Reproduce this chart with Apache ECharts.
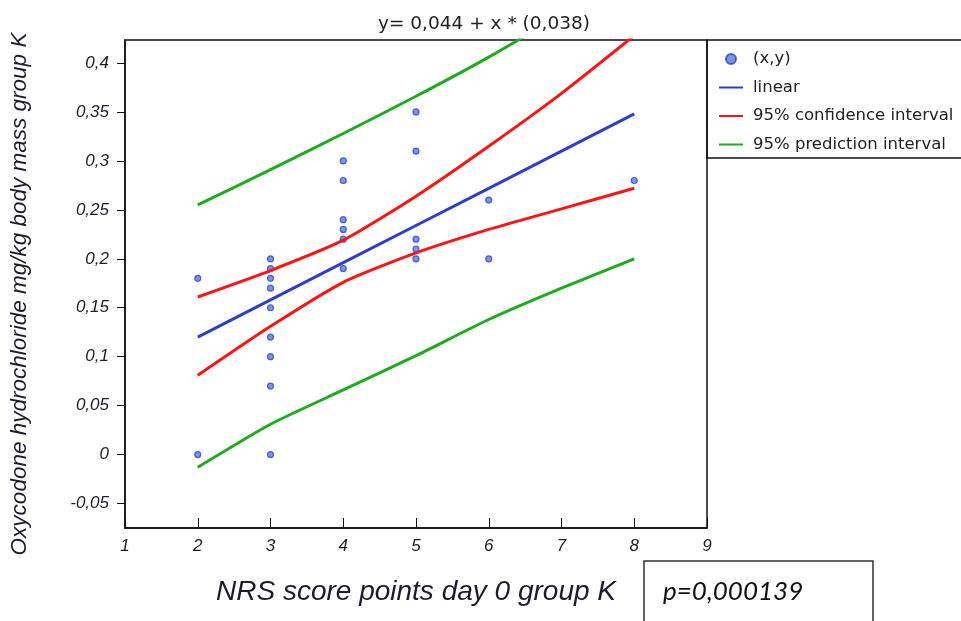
<!DOCTYPE html>
<html>
<head>
<meta charset="utf-8">
<script src="https://cdn.jsdelivr.net/npm/echarts@6/dist/echarts.min.js"></script>
<style>
  html, body { margin: 0; padding: 0; background: #fff; }
  #chart { width: 961px; height: 621px; }
</style>
</head>
<body>
<div id="chart"></div>
<script>
// observed points (x = NRS score, y = mg/kg)
const pointX = [2, 2, 3, 3, 3, 3, 3, 3, 3, 3, 3, 4, 4, 4, 4, 4, 4, 5, 5, 5, 5, 5, 6, 6, 8]
const pointY = [0.18, 0, 0.2, 0.19, 0.18, 0.17, 0.15, 0.12, 0.1, 0.07, 0, 0.3, 0.28, 0.24, 0.23, 0.22, 0.19, 0.35, 0.31, 0.22, 0.21, 0.2, 0.26, 0.2, 0.28]

// fitted line and bands, read at each integer x
const curveX = [2, 3, 4, 5, 6, 7, 8]
const linear = [0.12, 0.158, 0.196, 0.234, 0.272, 0.310, 0.348]
const ciUpper = [0.161, 0.188, 0.219, 0.264, 0.315, 0.369, 0.428]
const ciLower = [0.081, 0.131, 0.176, 0.206, 0.230, 0.251, 0.272]
const piUpper = [0.255, 0.291, 0.328, 0.366, 0.406, 0.450, 0.496]
const piLower = [-0.013, 0.031, 0.066, 0.101, 0.138, 0.170, 0.200]

const yTicks = [-0.05, 0, 0.05, 0.1, 0.15, 0.2, 0.25, 0.3, 0.35, 0.4]

const pairs = (xs, ys) => xs.map((x, i) => [x, ys[i]])
const comma = (v) => String(+(+v).toFixed(2)).replace('.', ',')

const chart = echarts.init(document.getElementById('chart'))
const labelFont = { fontFamily: 'Liberation Sans', fontStyle: 'italic', fontSize: 17, color: '#1c1c2e' }
const lineIcon = 'path://M0,0 H24 V2 H0 Z'

const band = (name, data, color, smooth) => ({
  name: name,
  type: 'line',
  data: pairs(curveX, data),
  smooth: smooth,
  symbol: 'none',
  lineStyle: { color: color, width: 3 },
  itemStyle: { color: color },
  z: 3
})

chart.setOption({
  animation: false,
  title: {
    text: 'y= 0,044 + x * (0,038)',
    left: 373,
    top: 10,
    textStyle: { fontFamily: 'DejaVu Sans', fontWeight: 'normal', fontSize: 18.5, color: '#222' }
  },
  grid: {
    left: 125,
    top: 40,
    right: 254,
    bottom: 93,
    show: true,
    borderColor: '#111',
    borderWidth: 1.5
  },
  legend: {
    orient: 'vertical',
    left: 714,
    top: 45,
    itemWidth: 24,
    itemHeight: 10,
    itemGap: 10.5,
    textStyle: { fontFamily: 'DejaVu Sans', fontSize: 16.5, color: '#222', lineHeight: 18, padding: [0, 0, 0, 5] },
    data: [
      { name: '(x,y)', icon: 'circle' },
      { name: 'linear', icon: lineIcon },
      { name: '95% confidence interval', icon: lineIcon },
      { name: '95% prediction interval', icon: lineIcon }
    ]
  },
  xAxis: {
    type: 'value',
    min: 1,
    max: 9,
    interval: 1,
    name: 'NRS score points day 0 group K',
    nameLocation: 'middle',
    nameGap: 50,
    nameTextStyle: { fontFamily: 'Liberation Sans', fontStyle: 'italic', fontSize: 28, color: '#1c1c2e' },
    axisLine: { onZero: false, lineStyle: { color: '#111', width: 1.5 } },
    axisTick: { inside: true, length: 10, lineStyle: { color: '#111' } },
    axisLabel: Object.assign({ margin: 10 }, labelFont),
    splitLine: { show: false }
  },
  yAxis: {
    type: 'value',
    min: -0.075,
    max: 0.4235,
    axisLine: { show: true, onZero: false, lineStyle: { color: '#111', width: 1.5 } },
    axisTick: { show: true, length: 8, customValues: yTicks, lineStyle: { color: '#111' } },
    axisLabel: Object.assign({ margin: 16, customValues: yTicks, formatter: comma }, labelFont),
    splitLine: { show: false }
  },
  series: [
    {
      name: '(x,y)',
      type: 'scatter',
      data: pairs(pointX, pointY),
      symbolSize: 6,
      itemStyle: { color: '#6077dc', borderColor: '#2b47c6', borderWidth: 1.2 },
      z: 2
    },
    band('linear', linear, '#2c3fcc', false),
    band('95% confidence interval', ciUpper, '#ff1414', 0.2),
    band('95% confidence interval', ciLower, '#ff1414', 0.2),
    band('95% prediction interval', piUpper, '#1faa1f', 0.2),
    band('95% prediction interval', piLower, '#1faa1f', 0.2)
  ],
  graphic: [
    {
      // y axis title, placed by hand to sit a little below the plot centre like the source
      type: 'text',
      x: 20,
      y: 294,
      rotation: Math.PI / 2,
      style: {
        text: 'Oxycodone hydrochloride mg/kg body mass group K',
        fontFamily: 'Liberation Sans',
        fontStyle: 'italic',
        fontSize: 22.5,
        fill: '#1c1c2e',
        align: 'center',
        verticalAlign: 'middle'
      }
    },
    {
      type: 'rect',
      shape: { x: 707, y: 40, width: 270, height: 118 },
      style: { fill: 'none', stroke: '#111', lineWidth: 1.5 },
      z: 1
    },
    {
      type: 'rect',
      shape: { x: 644, y: 561, width: 229, height: 80 },
      style: { fill: '#fff', stroke: '#333', lineWidth: 1.5 },
      z: 10
    },
    {
      type: 'text',
      x: 663,
      y: 592,
      style: {
        text: 'p=0,000139',
        fontFamily: 'Lato',
        fontStyle: 'italic',
        fontSize: 26,
        fill: '#111',
        verticalAlign: 'middle'
      },
      z: 11
    }
  ]
})
</script>
</body>
</html>
